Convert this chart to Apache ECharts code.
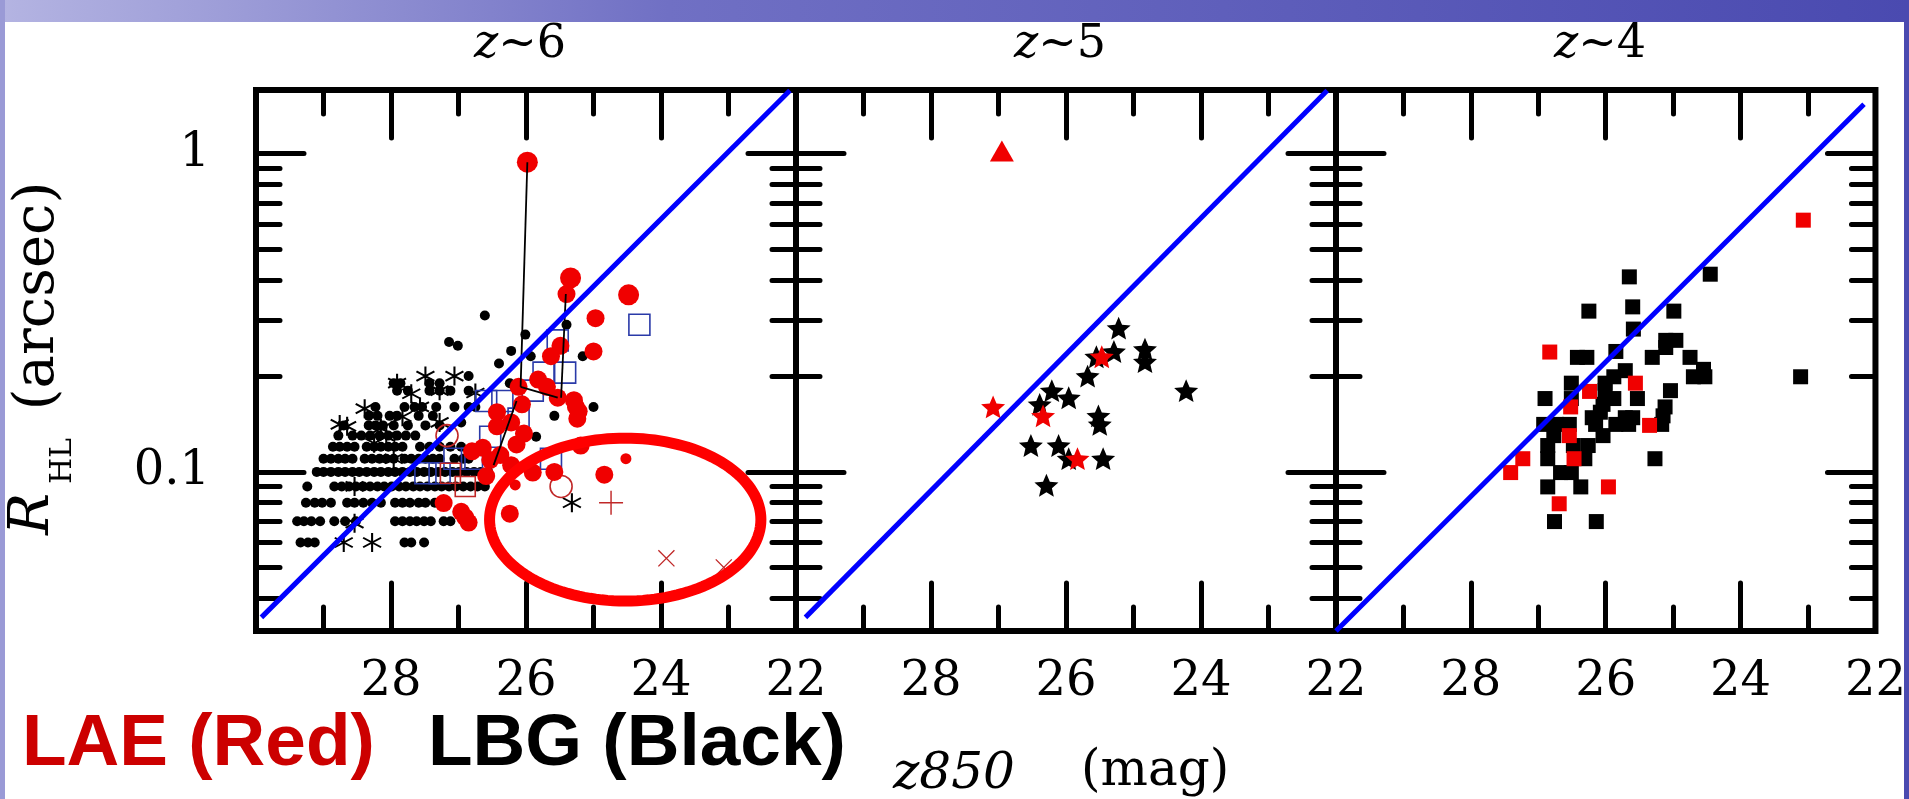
<!DOCTYPE html>
<html>
<head>
<meta charset="utf-8">
<script src="https://cdn.jsdelivr.net/npm/echarts@6/dist/echarts.min.js"></script>
<style>
html,body{margin:0;padding:0;background:#fff;}
#chart{width:1909px;height:799px;}
</style>
</head>
<body>
<div id="chart"></div>
<script>
// ---------------- data ----------------
const panelTitles = ['6', '5', '4'];
const xRange = [22, 30];          // z850 magnitude (axis reversed)
const xStep = 2;
const yLogRange = [-1.5, 0.2];    // log10 of R_HL (arcsec)
const yMajorTicks = [0.1, 1];
const yMinorTicks = [0.04, 0.05, 0.06, 0.07, 0.08, 0.09, 0.2, 0.3, 0.4, 0.5, 0.6, 0.7, 0.8, 0.9];

// blue constant surface-brightness lines, one per panel [[mag, R], [mag, R]]
const diagLineZ6 = [[29.92, 0.0349], [22.09, 1.58]];
const diagLineZ5 = [[29.86, 0.0349], [22.13, 1.58]];
const diagLineZ4 = [[30.0, 0.0316], [22.17, 1.43]];

// ---- z~6 ----
const z6LaeBig = [[25.98, 0.94], [25.34, 0.407], [24.48, 0.36]];
const z6Lae = [[25.40, 0.362], [24.97, 0.304], [25.49, 0.249], [25.00, 0.239], [25.63, 0.231], [25.82, 0.195],
  [25.69, 0.185], [26.11, 0.185], [25.53, 0.171], [25.26, 0.160], [26.06, 0.163], [26.43, 0.154], [25.24, 0.147],
  [26.22, 0.143], [26.43, 0.139], [26.03, 0.132], [26.14, 0.122], [25.19, 0.121], [26.64, 0.119], [26.38, 0.113],
  [26.53, 0.109], [26.22, 0.105], [25.90, 0.0995], [26.59, 0.097], [25.58, 0.100], [24.84, 0.098], [27.22, 0.0798],
  [26.96, 0.0749], [26.85, 0.0693], [26.90, 0.072], [26.24, 0.0739], [26.80, 0.116], [25.29, 0.168], [25.22, 0.155]];
const z6LaeSmall = [[24.52, 0.110], [26.16, 0.091]];
const z6LbgRowR = [0.06, 0.07, 0.08, 0.09, 0.10, 0.11, 0.12, 0.13, 0.14, 0.15, 0.16, 0.18, 0.19];
const z6LbgRowMags = [
  [29.34, 29.23, 29.13, 27.80, 27.70, 27.51],
  [29.39, 29.29, 29.18, 29.05, 28.84, 28.68, 28.52, 27.94, 27.83, 27.72, 27.62, 27.51, 27.41, 27.22, 27.12],
  [29.26, 29.13, 29.02, 28.89, 28.65, 28.54, 28.41, 28.28, 28.15, 27.94, 27.83, 27.72, 27.59, 27.49, 27.35],
  [29.24, 28.84, 28.73, 28.62, 28.52, 28.41, 28.31, 28.20, 28.10, 27.99, 27.88, 27.78, 27.67, 27.57, 27.46, 27.35, 27.25, 27.14, 27.04, 26.93, 26.82, 26.72, 26.61],
  [29.10, 29.00, 28.89, 28.78, 28.68, 28.57, 28.47, 28.36, 28.25, 28.15, 28.04, 27.94, 27.83, 27.72, 27.62, 27.51, 27.41, 27.30, 27.20, 27.09, 26.99, 26.88, 26.77, 26.67, 26.56],
  [29.00, 28.89, 28.78, 28.68, 28.57, 28.39, 28.28, 28.17, 28.07, 27.96, 27.80, 27.70, 27.59, 27.49, 27.38, 27.28, 27.06, 26.93, 26.85],
  [28.86, 28.76, 28.65, 28.54, 28.36, 28.25, 28.15, 28.04, 27.94, 27.83, 27.57, 27.43, 27.28, 27.12, 26.96],
  [28.78, 28.57, 28.44, 28.31, 28.17, 28.04, 27.91, 27.78, 27.64],
  [28.70, 28.33, 28.23, 28.12, 27.96, 27.75, 27.49, 27.28],
  [28.33, 28.20, 28.02, 27.91, 27.59, 27.38],
  [28.23, 27.80, 27.65, 27.54, 27.33, 27.06, 26.85, 26.75],
  [27.91, 27.75, 27.43, 27.28, 27.12, 26.85],
  [27.96, 27.86, 27.43, 27.28]
];
const z6LbgDotsScattered = [[26.61, 0.31], [27.14, 0.256], [27.01, 0.249], [26.01, 0.27], [26.22, 0.24], [26.40, 0.219],
  [25.93, 0.231], [26.85, 0.20], [26.24, 0.19], [25.40, 0.29], [25.16, 0.231], [25.00, 0.16], [25.58, 0.15],
  [25.85, 0.129], [26.96, 0.143]];
const z6LbgAsterisks = [[27.91, 0.19], [27.49, 0.20], [27.06, 0.20], [28.39, 0.158], [27.70, 0.176], [27.28, 0.18],
  [27.57, 0.16], [27.83, 0.149], [28.15, 0.137], [28.25, 0.123], [28.65, 0.139], [27.96, 0.11], [28.54, 0.069],
  [28.70, 0.06], [28.28, 0.06], [25.32, 0.08], [26.75, 0.177], [27.28, 0.143], [28.54, 0.09], [28.76, 0.141], [28.07, 0.129]];
const z6BlueSquares = [[24.32, 0.29], [25.53, 0.259], [25.74, 0.205], [26.35, 0.167], [26.11, 0.147], [26.53, 0.129],
  [27.06, 0.11], [27.49, 0.099], [26.80, 0.11], [25.63, 0.11], [27.28, 0.099], [26.59, 0.167], [25.42, 0.205], [25.90, 0.18]];
const z6RedOpenSquares = [[26.90, 0.09], [27.12, 0.099]];
const z6RedOpenCircles = [[27.17, 0.13], [25.48, 0.09]];
const z6RedPlus = [[24.74, 0.08]];
const z6RedCross = [[23.92, 0.0535], [23.07, 0.0501]];
const z6Links = [
  [[25.98, 0.94], [26.08, 0.185]],
  [[26.08, 0.185], [25.53, 0.171]],
  [[25.41, 0.362], [25.48, 0.171]],
  [[26.14, 0.167], [26.48, 0.105]]
];
// highlighted region (red ellipse): centre [mag, R], half-axes [mag, dex]
const ellipseCenter = [24.53, 0.0708];
const ellipseHalfAxes = [2.01, 0.256];

// ---- z~5 ----
const z5LaeTriangle = [[26.95, 1.02]];
const z5LaeStars = [[27.08, 0.160], [26.34, 0.150], [25.47, 0.230], [25.83, 0.110]];
const z5LbgStars = [[25.22, 0.283], [25.29, 0.239], [25.55, 0.230], [24.83, 0.243], [24.83, 0.222], [25.68, 0.200],
  [26.21, 0.180], [25.96, 0.171], [26.39, 0.163], [24.22, 0.180], [25.52, 0.150], [25.50, 0.141], [26.52, 0.121],
  [26.11, 0.121], [25.96, 0.110], [25.45, 0.110], [26.29, 0.0908]];

// ---- z~4 ----
const z4Lae = [[23.07, 0.618], [26.83, 0.238], [25.56, 0.190], [26.24, 0.179], [26.52, 0.160], [25.35, 0.140],
  [26.54, 0.130], [27.23, 0.110], [26.47, 0.110], [27.41, 0.0995], [25.96, 0.0897], [26.69, 0.0794]];
const z4Lbg = [[24.45, 0.418], [25.65, 0.410], [26.25, 0.320], [25.60, 0.330], [24.99, 0.320], [25.59, 0.281],
  [25.11, 0.259], [24.96, 0.259], [25.11, 0.246], [25.85, 0.239], [26.42, 0.229], [26.28, 0.229], [25.31, 0.229],
  [24.75, 0.229], [24.55, 0.210], [24.70, 0.199], [24.53, 0.199], [23.11, 0.199], [25.71, 0.208], [25.88, 0.199],
  [26.01, 0.190], [26.51, 0.190], [26.01, 0.180], [25.04, 0.180], [26.90, 0.170], [26.51, 0.170], [25.88, 0.170],
  [25.53, 0.170], [26.04, 0.163], [25.12, 0.160], [26.08, 0.154], [25.15, 0.150], [26.20, 0.148], [25.71, 0.148],
  [25.60, 0.148], [26.92, 0.141], [26.73, 0.141], [26.54, 0.141], [26.15, 0.141], [25.85, 0.141], [25.66, 0.141],
  [25.17, 0.141], [26.77, 0.130], [26.04, 0.130], [26.86, 0.121], [26.48, 0.121], [26.26, 0.121], [26.86, 0.110],
  [26.31, 0.110], [25.27, 0.110], [26.67, 0.0995], [26.51, 0.0995], [26.86, 0.0897], [26.37, 0.0897],
  [26.76, 0.0698], [26.14, 0.0698]];

// ---------------- layout / style ----------------
const PANEL_LEFT = [256, 796, 1336];
const PANEL_TOP = 90, PANEL_W = 540, PANEL_H = 541;
const SERIF = 'DejaVu Serif';
const RED = '#f00000';
const STAR = 'path://M0,-10 L2.7,-3.7 L9.51,-3.09 L4.35,1.41 L5.88,8.09 L0,4.6 L-5.88,8.09 L-4.35,1.41 L-9.51,-3.09 L-2.7,-3.7 Z';
const ASTER = 'path://M-1,-10 L1,-10 L1,10 L-1,10 Z M-9.16,-4.13 L-8.16,-5.87 L9.16,4.13 L8.16,5.87 Z M-8.16,5.87 L-9.16,4.13 L8.16,-5.87 L9.16,-4.13 Z';
const PLUS = 'path://M-10,-0.6 L10,-0.6 L10,0.6 L-10,0.6 Z M-0.6,-10 L0.6,-10 L0.6,10 L-0.6,10 Z';
const CROSS = 'path://M-7.49,-6.65 L-6.65,-7.49 L7.49,6.65 L6.65,7.49 Z M-6.65,7.49 L-7.49,6.65 L6.65,-7.49 L7.49,-6.65 Z';

const chart = echarts.init(document.getElementById('chart'), null, {renderer: 'canvas'});

const grids = [], xAxes = [], yAxes = [];
const tickStyle = {color: '#000', width: 5, cap: 'round'};
const noLine = {show: false, onZero: false};
PANEL_LEFT.forEach((left, i) => {
  grids.push({left: left, top: PANEL_TOP, width: PANEL_W, height: PANEL_H, show: true,
    borderColor: '#000', borderWidth: 6, backgroundColor: 'transparent'});
  ['bottom', 'top'].forEach(pos => {
    xAxes.push({gridIndex: i, type: 'value', position: pos, min: xRange[0], max: xRange[1], interval: xStep,
      inverse: true, axisLine: noLine, splitLine: {show: false},
      axisTick: {show: true, inside: true, length: 48, lineStyle: tickStyle},
      minorTick: {show: true, splitNumber: 2, length: 24, lineStyle: tickStyle},
      axisLabel: {show: pos === 'bottom', margin: 28, color: '#000', fontFamily: SERIF, fontSize: 48,
        formatter: v => (v === xRange[1] ? '' : String(v))}});
  });
  // data axis (logarithmic)
  yAxes.push({gridIndex: i, type: 'log', logBase: 10, min: Math.pow(10, yLogRange[0]), max: Math.pow(10, yLogRange[1]),
    show: false, axisLine: noLine});
  // tick-only axes (same extent, expressed in log10)
  ['left', 'right'].forEach(pos => {
    yAxes.push({gridIndex: i, type: 'value', position: pos, min: yLogRange[0], max: yLogRange[1],
      axisLine: noLine, splitLine: {show: false},
      axisTick: {show: true, inside: true, length: 48, lineStyle: tickStyle, customValues: yMajorTicks.map(Math.log10)},
      axisLabel: {show: i === 0 && pos === 'left', margin: 46, color: '#000', fontFamily: SERIF, fontSize: 48,
        padding: [8, 0, 0, 0], customValues: yMajorTicks.map(Math.log10),
        formatter: v => String(Math.round(Math.pow(10, v) * 1000) / 1000)}});
    yAxes.push({gridIndex: i, type: 'value', position: pos, min: yLogRange[0], max: yLogRange[1],
      axisLine: noLine, splitLine: {show: false}, axisLabel: {show: false},
      axisTick: {show: true, inside: true, length: 24, lineStyle: tickStyle, customValues: yMinorTicks.map(Math.log10)}});
  });
});

function scat(g, data, symbol, size, style, z, extra) {
  return Object.assign({type: 'scatter', xAxisIndex: 2 * g, yAxisIndex: 5 * g, data: data, symbol: symbol,
    symbolSize: size, itemStyle: Object.assign({opacity: 1}, style), z: z, silent: true}, extra || {});
}
function line(g, data, color, width, z) {
  return {type: 'line', xAxisIndex: 2 * g, yAxisIndex: 5 * g, data: data, symbol: 'none', silent: true, z: z,
    lineStyle: {color: color, width: width}};
}
const open = c => ({color: 'rgba(0,0,0,0)', borderColor: c, borderWidth: 1.6});

const z6LbgDots = [];
z6LbgRowR.forEach((r, k) => z6LbgRowMags[k].forEach(m => z6LbgDots.push([m, r])));
z6LbgDotsScattered.forEach(p => z6LbgDots.push(p));

const series = [
  // z~6
  scat(0, z6LbgDots, 'circle', 10, {color: '#000'}, 2),
  scat(0, z6LbgAsterisks, ASTER, 19, {color: '#000'}, 3),
  scat(0, z6BlueSquares, 'rect', 21, open('#2a3aa8'), 4),
  scat(0, z6RedOpenSquares, 'rect', 20, open('#c02828'), 4),
  scat(0, z6RedOpenCircles, 'circle', 22, open('#c02828'), 4),
  scat(0, z6Lae, 'circle', 18, {color: RED}, 5),
  scat(0, z6LaeBig, 'circle', 21, {color: RED}, 5),
  scat(0, z6LaeSmall, 'circle', 11, {color: RED}, 5),
  scat(0, z6RedPlus, PLUS, 24, {color: '#c02828'}, 5),
  scat(0, z6RedCross, CROSS, 17, {color: '#c02828'}, 5),
  ...z6Links.map(seg => line(0, seg, '#000', 1.8, 6)),
  line(0, diagLineZ6, '#0000ff', 5, 7),
  {type: 'custom', xAxisIndex: 0, yAxisIndex: 0, data: [ellipseCenter], silent: true, z: 8, clip: false,
    renderItem: function (params, api) {
      const pts = [];
      for (let k = 0; k < 144; k++) {
        const t = 2 * Math.PI * k / 144;
        pts.push(api.coord([ellipseCenter[0] + ellipseHalfAxes[0] * Math.cos(t),
          ellipseCenter[1] * Math.pow(10, ellipseHalfAxes[1] * Math.sin(t))]));
      }
      return {type: 'polygon', shape: {points: pts}, style: {fill: 'none', stroke: '#ff0000', lineWidth: 11}};
    }},
  // z~5
  scat(1, z5LbgStars, STAR, 24, {color: '#000'}, 3, {symbolKeepAspect: true}),
  scat(1, z5LaeStars, STAR, 24, {color: RED}, 4, {symbolKeepAspect: true}),
  scat(1, z5LaeTriangle, 'triangle', [24, 21], {color: RED}, 4),
  line(1, diagLineZ5, '#0000ff', 5, 7),
  // z~4
  scat(2, z4Lbg, 'rect', 15, {color: '#000'}, 3),
  scat(2, z4Lae, 'rect', 15, {color: RED}, 4),
  line(2, diagLineZ4, '#0000ff', 5, 7)
];

// decorations / text
const graphics = [
  {type: 'rect', left: 0, top: 0, z: 100, shape: {width: 1909, height: 22},
    style: {fill: new echarts.graphic.LinearGradient(0, 0, 1, 0, [
      {offset: 0, color: '#b4b4e2'}, {offset: 0.35, color: '#7070c4'}, {offset: 1, color: '#4a4ab0'}])}},
  {type: 'rect', left: 0, top: 0, z: 100, shape: {width: 5, height: 799}, style: {fill: '#9a9ad6'}},
  {type: 'rect', left: 1904, top: 0, z: 100, shape: {width: 5, height: 799}, style: {fill: '#4a4ab0'}}
];
PANEL_LEFT.forEach((left, i) => {
  graphics.push({type: 'text', x: left + PANEL_W / 2 - 6, y: 45, z: 10,
    style: {text: '{i|z}{n|∼' + panelTitles[i] + '}', textAlign: 'center', textVerticalAlign: 'middle',
      rich: {i: {fontFamily: SERIF, fontStyle: 'italic', fontSize: 46, fill: '#000'},
             n: {fontFamily: SERIF, fontSize: 46, fill: '#000'}}}});
});
graphics.push(
  {type: 'text', x: 38, y: 296, rotation: Math.PI / 2, z: 10,
    style: {text: '(arcsec)', font: '56px "DejaVu Serif"', fill: '#000', textAlign: 'center', textVerticalAlign: 'middle'}},
  {type: 'text', x: 33, y: 514, rotation: Math.PI / 2, z: 10,
    style: {text: 'R', font: 'italic 56px "DejaVu Serif"', fill: '#000', textAlign: 'center', textVerticalAlign: 'middle'}},
  {type: 'text', x: 63, y: 461, rotation: Math.PI / 2, z: 10,
    style: {text: 'HL', font: '30px "DejaVu Serif"', fill: '#000', textAlign: 'center', textVerticalAlign: 'middle'}},
  {type: 'text', x: 22, y: 745, z: 10,
    style: {text: 'LAE (Red)', font: 'bold 73px "Liberation Sans"', fill: '#cc0000', textAlign: 'left', textVerticalAlign: 'middle'}},
  {type: 'text', x: 428, y: 745, z: 10,
    style: {text: 'LBG (Black)', font: 'bold 73px "Liberation Sans"', fill: '#000', textAlign: 'left', textVerticalAlign: 'middle'}},
  {type: 'text', x: 893, y: 775, z: 10,
    style: {text: 'z850', font: 'italic 50px "DejaVu Serif"', fill: '#000', textAlign: 'left', textVerticalAlign: 'middle'}},
  {type: 'text', x: 1081, y: 772, z: 10,
    style: {text: '(mag)', font: '50px "DejaVu Serif"', fill: '#000', textAlign: 'left', textVerticalAlign: 'middle'}}
);

chart.setOption({
  animation: false,
  backgroundColor: '#ffffff',
  grid: grids,
  xAxis: xAxes,
  yAxis: yAxes,
  series: series,
  graphic: graphics
});
</script>
</body>
</html>
